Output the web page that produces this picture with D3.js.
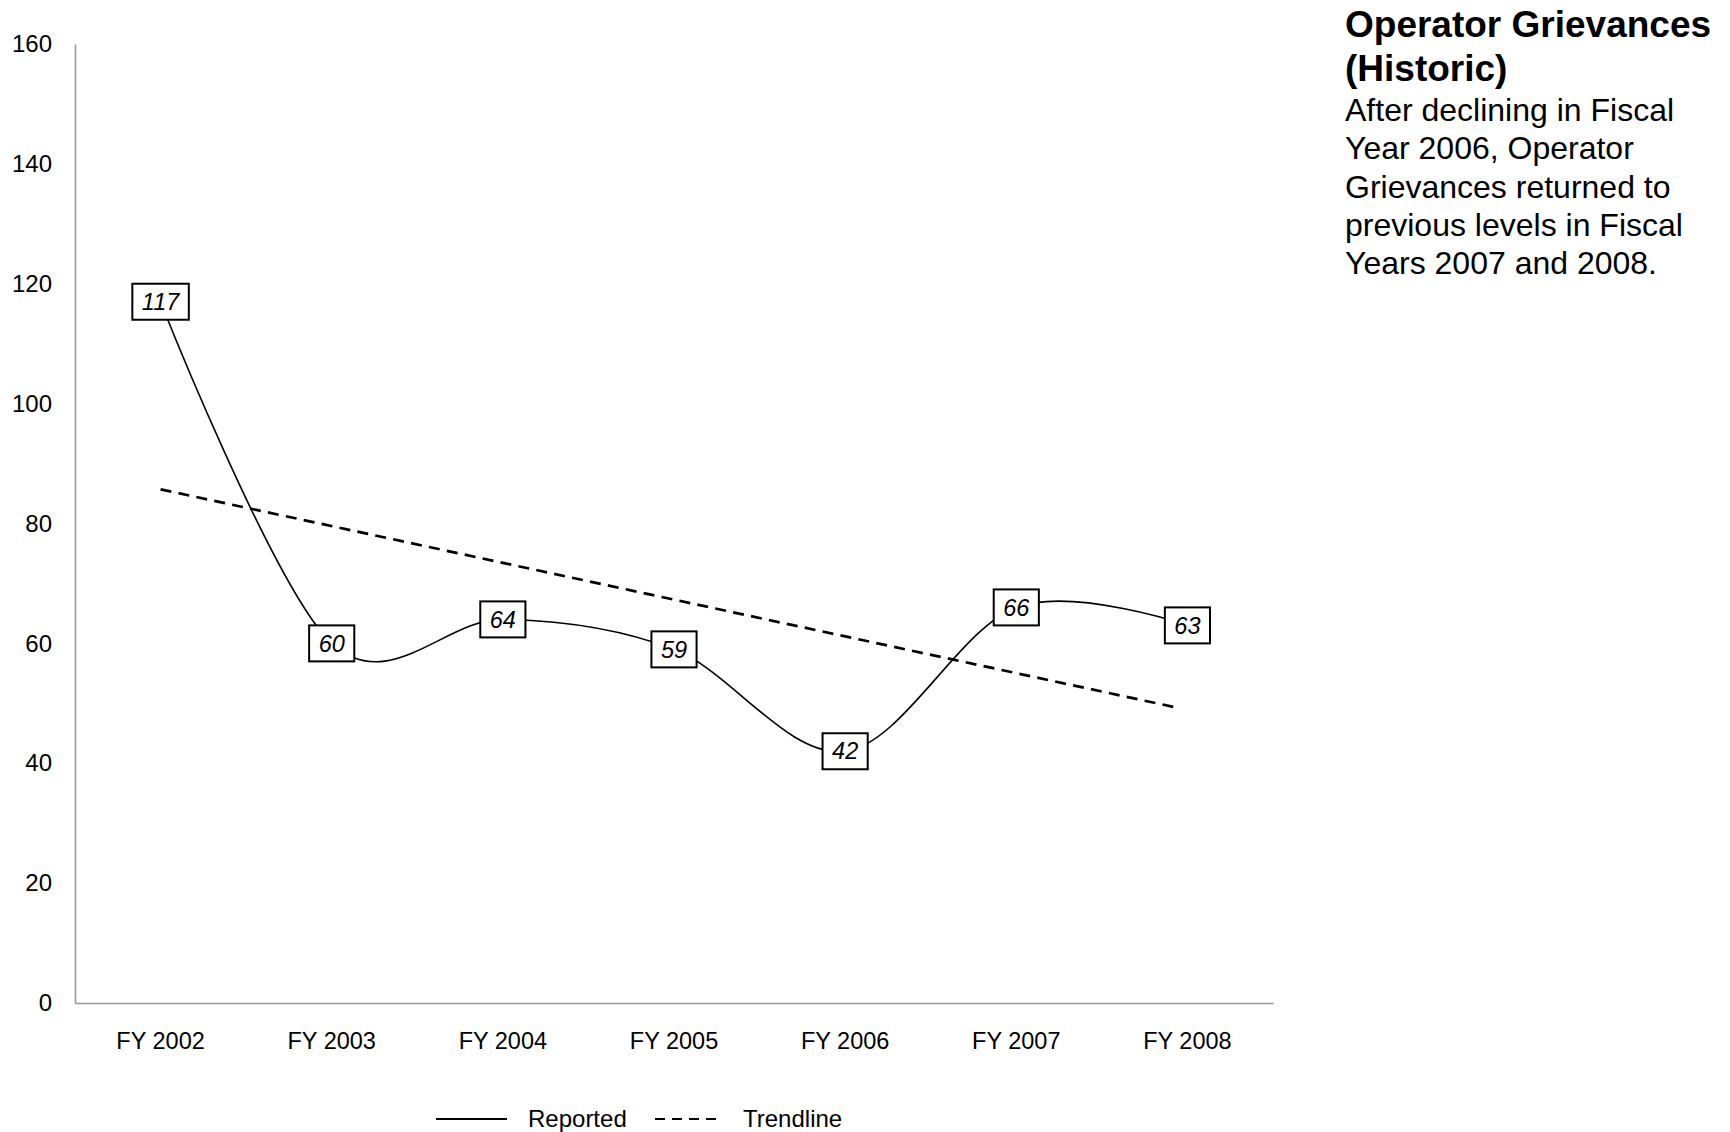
<!DOCTYPE html>
<html>
<head>
<meta charset="utf-8">
<script src="https://cdn.jsdelivr.net/npm/d3@7/dist/d3.min.js"></script>
<style>
  html, body { margin: 0; padding: 0; background: #fff; }
  svg { display: block; font-family: "Liberation Sans", Arial, sans-serif; }
</style>
</head>
<body>
<svg id="chart" width="1730" height="1132"></svg>
<script>
const categories = ["FY 2002", "FY 2003", "FY 2004", "FY 2005", "FY 2006", "FY 2007", "FY 2008"];
const reported = [117, 60, 64, 59, 42, 66, 63];
const trendCategories = ["FY 2002", "FY 2008"];
const trendValues = [85.7, 48.9];
const yTicks = [0, 20, 40, 60, 80, 100, 120, 140, 160];
const titleLines = ["Operator Grievances", "(Historic)"];
const bodyLines = ["After declining in Fiscal", "Year 2006, Operator", "Grievances returned to", "previous levels in Fiscal", "Years 2007 and 2008."];
const legendItems = ["Reported", "Trendline"];

(function () {
const svg = d3.select("#chart");
const mLeft = 75, mRight = 1273, mTop = 44, mBottom = 1003;

const x = d3.scaleBand().domain(categories).range([mLeft, mRight]);
const y = d3.scaleLinear().domain([0, 160]).range([mBottom, mTop]);
const cx = c => x(c) + x.bandwidth() / 2;

// Y axis
const yAxis = svg.append("g").attr("transform", `translate(${mLeft},0)`)
  .call(d3.axisLeft(y).tickValues(yTicks).tickSize(0).tickPadding(23));
yAxis.select(".domain").attr("stroke", "#999").attr("stroke-width", 1.6);
yAxis.selectAll("text").attr("font-size", 24).attr("fill", "#000")
  .attr("font-family", "Liberation Sans, Arial, sans-serif");

// X axis
const xAxis = svg.append("g").attr("transform", `translate(0,${mBottom})`)
  .call(d3.axisBottom(x).tickSize(0).tickPadding(29));
xAxis.select(".domain").attr("stroke", "#999").attr("stroke-width", 1.6);
xAxis.selectAll("text").attr("font-size", 23.5).attr("fill", "#000")
  .attr("font-family", "Liberation Sans, Arial, sans-serif");

// Trendline (dash pattern stops a little before the last category, as in the original)
const trendData = trendCategories.map((c, i) => ({ c, v: trendValues[i] }));
const trendPath = svg.append("path")
  .datum(trendData)
  .attr("fill", "none")
  .attr("stroke", "#000")
  .attr("stroke-width", 2.7)
  .attr("d", d3.line().x(d => cx(d.c)).y(d => y(d.v)));
const tLen = trendPath.node().getTotalLength();
const visible = tLen - 14;
const dashes = [];
let acc = 0;
while (acc + 11 <= visible) { dashes.push(11, 7.3); acc += 18.3; }
dashes.push(Math.max(0, visible - acc), tLen);
trendPath.attr("stroke-dasharray", dashes.join(","));

// Reported line
const repData = categories.map((c, i) => ({ c, v: reported[i] }));
svg.append("path")
  .datum(repData)
  .attr("fill", "none")
  .attr("stroke", "#000")
  .attr("stroke-width", 1.6)
  .attr("d", d3.line().x(d => cx(d.c)).y(d => y(d.v)).curve(d3.curveCardinal.tension(0)));

// Data labels
const lab = svg.append("g").selectAll("g").data(repData).join("g")
  .attr("transform", d => `translate(${cx(d.c)},${y(d.v)})`);
lab.append("text")
  .attr("text-anchor", "middle")
  .attr("dy", "0.35em")
  .attr("font-size", 23.5)
  .attr("font-style", "italic")
  .text(d => d.v)
  .each(function(d) { d.w = this.getComputedTextLength(); });
lab.insert("rect", "text")
  .attr("x", d => -(d.w / 2 + 9.5))
  .attr("y", -18)
  .attr("width", d => d.w + 19)
  .attr("height", 36)
  .attr("fill", "#fff")
  .attr("stroke", "#000")
  .attr("stroke-width", 2);

// Legend
const lg = svg.append("g");
lg.append("line").attr("x1", 436).attr("x2", 507).attr("y1", 1119).attr("y2", 1119)
  .attr("stroke", "#000").attr("stroke-width", 2);
lg.append("text").attr("x", 528).attr("y", 1127).attr("font-size", 24).text(legendItems[0]);
lg.append("line").attr("x1", 655).attr("x2", 722).attr("y1", 1119).attr("y2", 1119)
  .attr("stroke", "#000").attr("stroke-width", 2).attr("stroke-dasharray", "10,7");
lg.append("text").attr("x", 743).attr("y", 1127).attr("font-size", 24).text(legendItems[1]);

// Title and description
const tg = svg.append("g");
titleLines.forEach((t, i) => {
  tg.append("text").attr("x", 1345).attr("y", 37 + i * 44)
    .attr("font-size", 37).attr("font-weight", "bold").text(t);
});
bodyLines.forEach((t, i) => {
  tg.append("text").attr("x", 1345).attr("y", 121 + i * 38.3)
    .attr("font-size", 32).text(t);
});
})();
</script>
</body>
</html>
